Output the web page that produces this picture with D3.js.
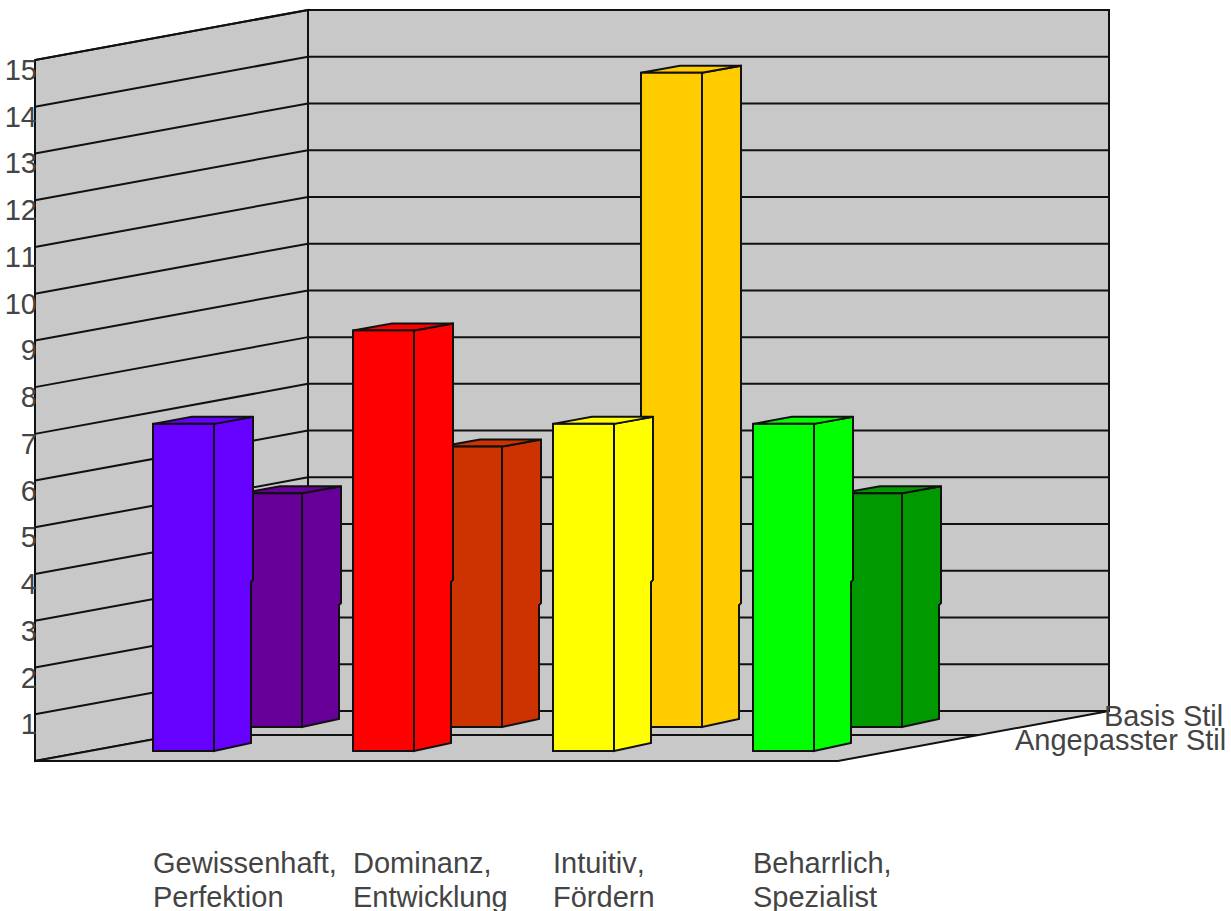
<!DOCTYPE html>
<html>
<head>
<meta charset="utf-8">
<script src="https://cdn.jsdelivr.net/npm/d3@7"></script>
<style>
	html, body { margin: 0; padding: 0; background: #fff; overflow: hidden; }
	svg { display: block; }
	text { font-family: "Liberation Sans", Arial, sans-serif; font-size: 29px; fill: #444; font-kerning: none; }
	.wall { fill: #c8c8c8; stroke: #111; stroke-width: 2; }
	.grid { fill: none; stroke: #111; stroke-width: 2; }
	.face { stroke: #111; stroke-width: 2; stroke-linejoin: miter; }
</style>
</head>
<body>
<svg id="chart" width="1231" height="911"></svg>
<script>
var categoryLine1 = ["Gewissenhaft,", "Dominanz,", "Intuitiv,", "Beharrlich,"];
var categoryLine2 = ["Perfektion", "Entwicklung", "Fördern", "Spezialist"];
var seriesNames = ["Angepasster Stil", "Basis Stil"];
var angepasstValues = [7, 9, 7, 7];
var basisValues = [5, 6, 14, 5];
var angepasstColours = ["#6600ff", "#ff0000", "#ffff00", "#00ff00"];
var basisColours = ["#660099", "#cc3300", "#ffcc00", "#009900"];
var yTicks = d3.range(1, 16);

// box corners of the 3d frame
var frontX = 35, frontRight = 838, floorY = 761;
var depthX = 273, depthY = -50;
var plotH = 701;

var svg = d3.select("#chart");

var y = d3.scaleLinear().domain([0, 15]).range([0, -plotH]);
var x = d3.scaleBand()
	.domain(d3.range(categoryLine1.length))
	.range([153, 953]);

var barW = 61, sideX = 39, sideY = -7;

function poly(points){
	return "M" + points.map(function(p){ return p[0] + "," + p[1]; }).join("L") + "Z";
}

// walls and floor
var backX = frontX + depthX;
var backRight = backX + 801;
var backY = floorY + depthY;

svg.append("path").attr("class", "wall")
	.attr("d", poly([[frontX, floorY], [frontX, floorY + y(15)], [backX, backY + y(15)], [backX, backY]]));
svg.append("path").attr("class", "wall")
	.attr("d", poly([[backX, backY], [backX, backY + y(15)], [backRight, backY + y(15)], [backRight, backY]]));
svg.append("path").attr("class", "wall")
	.attr("d", poly([[frontX, floorY], [backX, backY], [backRight, backY], [frontRight, floorY]]));

svg.selectAll(".grid-line")
	.data(yTicks)
	.enter()
	.append("path")
	.attr("class", "grid grid-line")
	.attr("d", function(d){
		return "M" + frontX + "," + (floorY + y(d)) +
			"L" + backX + "," + (backY + y(d)) +
			"L" + backRight + "," + (backY + y(d));
	});

// line on the floor between the two rows
var rowT = 26 / 50;
svg.append("path").attr("class", "grid")
	.attr("d", "M" + (frontX + depthX * rowT) + "," + (floorY + depthY * rowT) +
		"L" + (frontRight + (backRight - frontRight) * rowT) + "," + (floorY + depthY * rowT));

function drawRow(name, values, colours, offsetX, baseY, kinkValue){
	var bars = svg.selectAll(".bar-" + name)
		.data(values)
		.enter()
		.append("g")
		.attr("class", "bar-" + name);

	function left(d, i){ return x(i) + offsetX; }

	// side face, the outer edge steps in a little low down
	bars.append("path")
		.attr("class", "face")
		.attr("fill", function(d, i){ return colours[i]; })
		.attr("d", function(d, i){
			var r = left(d, i) + barW;
			var top = baseY + y(d);
			var kink = baseY + y(kinkValue);
			return poly([
				[r, top],
				[r + sideX, top + sideY],
				[r + sideX, kink],
				[r + sideX - 2, kink + 2],
				[r + sideX - 2, baseY + sideY - 1],
				[r, baseY]
			]);
		});

	// top face
	bars.append("path")
		.attr("class", "face")
		.attr("fill", function(d, i){ return colours[i]; })
		.attr("d", function(d, i){
			var l = left(d, i);
			var top = baseY + y(d);
			return poly([
				[l, top],
				[l + barW, top],
				[l + barW + sideX, top + sideY],
				[l + sideX, top + sideY]
			]);
		});

	// front face
	bars.append("rect")
		.attr("class", "face")
		.attr("fill", function(d, i){ return colours[i]; })
		.attr("x", left)
		.attr("y", function(d){ return baseY + y(d); })
		.attr("width", barW)
		.attr("height", function(d){ return -y(d); });
}

drawRow("basis", basisValues, basisColours, 88, 727, 2.65);
drawRow("angepasst", angepasstValues, angepasstColours, 0, 751, 3.66);

// value labels sit just under their tick, over the wall edge
svg.selectAll(".y-label")
	.data(yTicks)
	.enter()
	.append("text")
	.attr("class", "y-label")
	.attr("text-anchor", "end")
	.attr("x", 37)
	.attr("y", function(d){ return floorY + y(d) + 20; })
	.text(function(d){ return d; });

svg.selectAll(".cat-1")
	.data(categoryLine1)
	.enter()
	.append("text")
	.attr("class", "cat-1")
	.attr("x", function(d, i){ return x(i); })
	.attr("y", 873)
	.text(function(d){ return d; });

svg.selectAll(".cat-2")
	.data(categoryLine2)
	.enter()
	.append("text")
	.attr("class", "cat-2")
	.attr("x", function(d, i){ return x(i); })
	.attr("y", 907)
	.text(function(d){ return d; });

// series names at the end of the depth axis
svg.append("text").attr("x", 1015).attr("y", 750).text(seriesNames[0]);
svg.append("text").attr("x", 1104).attr("y", 726).text(seriesNames[1]);
</script>
</body>
</html>
